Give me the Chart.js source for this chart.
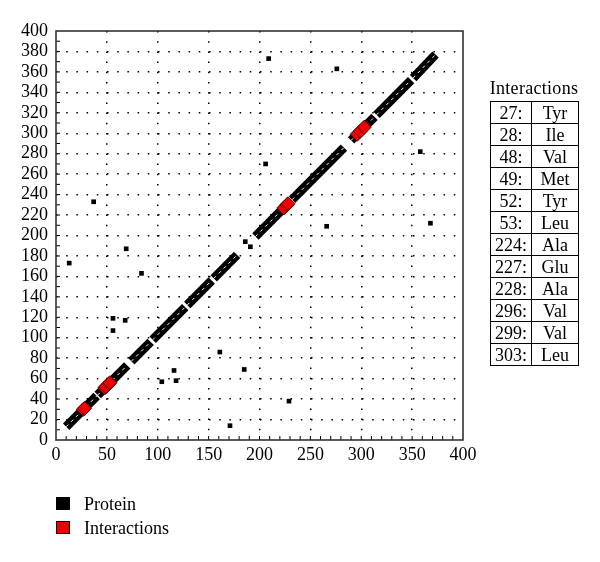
<!DOCTYPE html>
<html>
<head>
<meta charset="utf-8">
<script src="https://cdn.jsdelivr.net/npm/chart.js@4"></script>
<style>
  html, body { margin: 0; padding: 0; background: #fff; }
  #wrap { position: relative; width: 600px; height: 562px; font-family: 'Liberation Serif', 'Times New Roman', serif; color: #000; }
  #c { position: absolute; left: 0; top: 0; }
  .leg { position: absolute; left: 56px; height: 14px; font-size: 18px; line-height: 14px; }
  .leg .box { position: absolute; left: 0; top: 0; width: 14px; height: 13px; box-sizing: border-box; border: 1px solid #000; }
  .leg .txt { position: absolute; left: 28px; top: 0; white-space: nowrap; }
  #ttl { position: absolute; left: 480px; width: 108px; top: 77px; text-align: center; font-size: 18px; line-height: 22px; letter-spacing: 0.3px; }
  #tbl { position: absolute; left: 490px; top: 101px; border-collapse: collapse; font-size: 18px; }
  #tbl td { border: 1.5px solid #000; height: 21px; padding: 0; line-height: 20px; text-align: center; }
  #tbl td.n { width: 40px; }
  #tbl td.r { width: 46px; }
</style>
</head>
<body>
<div id="wrap">
  <canvas id="c" width="600" height="562"></canvas>
  <div class="leg" style="top:497px"><div class="box" style="background:#000"></div><div class="txt">Protein</div></div>
  <div class="leg" style="top:521px"><div class="box" style="background:#ee0000"></div><div class="txt">Interactions</div></div>
  <div id="ttl">Interactions</div>
  <table id="tbl"></table>
</div>
<script>
// Diagonal (sequential protein residues) segments
const segX0 = [10, 41, 74, 95, 129, 155, 196, 232, 290, 315, 351];
const segY0 = [13, 44, 77, 98, 132, 158, 199, 235, 293, 318, 354];
const segX1 = [40, 70, 93, 127, 153, 178, 229, 283, 313, 349, 373];
const segY1 = [43, 73, 96, 130, 156, 181, 232, 286, 316, 352, 377];

// Off-diagonal protein points
const protX = [13, 37, 69, 84, 56, 68, 56, 104, 116, 118, 161, 171, 185, 209, 276, 206, 358, 266, 368, 229, 186, 191];
const protY = [173, 233, 187, 163, 119, 117, 107, 57, 68, 58, 86, 14, 69, 373, 363, 270, 282, 209, 212, 38, 194, 189];

// Interaction residues
const interRes = [27, 28, 48, 49, 52, 53, 224, 227, 228, 296, 299, 303];
const interY = [30, 31, 51, 52, 55, 56, 227, 230, 231, 299, 302, 306];
const interNames = ['Tyr', 'Ile', 'Val', 'Met', 'Tyr', 'Leu', 'Ala', 'Glu', 'Ala', 'Val', 'Val', 'Leu'];

// Axis ticks
const xTicks = [0, 50, 100, 150, 200, 250, 300, 350, 400];
const yTicks = [0, 20, 40, 60, 80, 100, 120, 140, 160, 180, 200, 220, 240, 260, 280, 300, 320, 340, 360, 380, 400];

// Table
const tbl = document.getElementById('tbl');
interRes.forEach((r, i) => {
  const tr = document.createElement('tr');
  const a = document.createElement('td'); a.className = 'n'; a.textContent = r + ':';
  const b = document.createElement('td'); b.className = 'r'; b.textContent = interNames[i];
  tr.appendChild(a); tr.appendChild(b); tbl.appendChild(tr);
});

const FONT = "'Liberation Serif', 'Times New Roman', serif";
Chart.defaults.font.family = FONT;
Chart.defaults.color = '#000';

const datasets = [];
datasets.push({
  label: 'Interactions',
  data: interRes.map((x, i) => ({ x: x, y: interY[i] })),
  pointStyle: 'rectRot', pointRadius: 7, pointBackgroundColor: '#ee0000',
  pointBorderColor: '#5a0000', pointBorderWidth: 1, showLine: false, order: 0
});
segX0.forEach((x0, i) => {
  datasets.push({
    label: 'dash' + i,
    data: [{ x: x0, y: segY0[i] }, { x: segX1[i], y: segY1[i] }],
    showLine: true, pointRadius: 0, borderColor: '#ffffff', borderWidth: 1,
    borderDash: [3, 4], order: 1
  });
  datasets.push({
    label: 'seg' + i,
    data: [{ x: x0, y: segY0[i] }, { x: segX1[i], y: segY1[i] }],
    showLine: true, pointRadius: 0, borderColor: '#000000', borderWidth: 9,
    borderCapStyle: 'butt', order: 2
  });
});
datasets.push({
  label: 'Protein',
  data: protX.map((x, i) => ({ x: x, y: protY[i] })),
  pointStyle: 'rect', pointRadius: 3.3, pointBackgroundColor: '#000', pointBorderColor: '#000',
  pointBorderWidth: 0, showLine: false, order: 3
});

const framePlugin = {
  id: 'frame',
  afterDraw(chart) {
    const { ctx, chartArea: a, scales } = chart;
    ctx.save();
    ctx.strokeStyle = '#000';
    ctx.lineWidth = 1;
    for (let v = 10; v < 400; v += 10) {
      const py = scales.y.getPixelForValue(v);
      ctx.beginPath(); ctx.moveTo(a.left, py); ctx.lineTo(a.left + 4, py); ctx.stroke();
      const px = scales.x.getPixelForValue(v);
      ctx.beginPath(); ctx.moveTo(px, a.bottom); ctx.lineTo(px, a.bottom - 4); ctx.stroke();
    }
    ctx.strokeStyle = '#333';
    ctx.lineWidth = 1.6;
    ctx.strokeRect(a.left, a.top, a.right - a.left, a.bottom - a.top);
    ctx.restore();
  }
};

new Chart(document.getElementById('c'), {
  type: 'scatter',
  data: { datasets: datasets },
  options: {
    responsive: false,
    animation: false,
    devicePixelRatio: 1,
    layout: { padding: { left: 0, top: 31, right: 137, bottom: 92 } },
    plugins: { legend: { display: false }, tooltip: { enabled: false } },
    scales: {
      x: {
        type: 'linear', min: 0, max: 400,
        afterFit(s) { s.height = 30; },
        afterBuildTicks(s) { s.ticks = xTicks.map(v => ({ value: v })); },
        ticks: { font: { size: 18, family: FONT }, color: '#000', padding: 4, maxRotation: 0, autoSkip: false },
        grid: {
          drawTicks: false, lineWidth: 1.5,
          color: c => (c.tick && (c.tick.value === 0 || c.tick.value === 400)) ? 'rgba(0,0,0,0)' : '#000'
        },
        border: { display: false, dash: [1.5, 8.7] }
      },
      y: {
        type: 'linear', min: 0, max: 400,
        afterFit(s) { s.width = 56; },
        afterBuildTicks(s) { s.ticks = yTicks.map(v => ({ value: v })); },
        ticks: { font: { size: 18, family: FONT }, color: '#000', padding: 8, autoSkip: false },
        grid: {
          drawTicks: false, lineWidth: 1.5,
          color: c => (c.tick && (c.tick.value === 0 || c.tick.value === 400)) ? 'rgba(0,0,0,0)' : '#000'
        },
        border: { display: false, dash: [1.5, 8.7] }
      }
    }
  },
  plugins: [framePlugin]
});
</script>
</body>
</html>
